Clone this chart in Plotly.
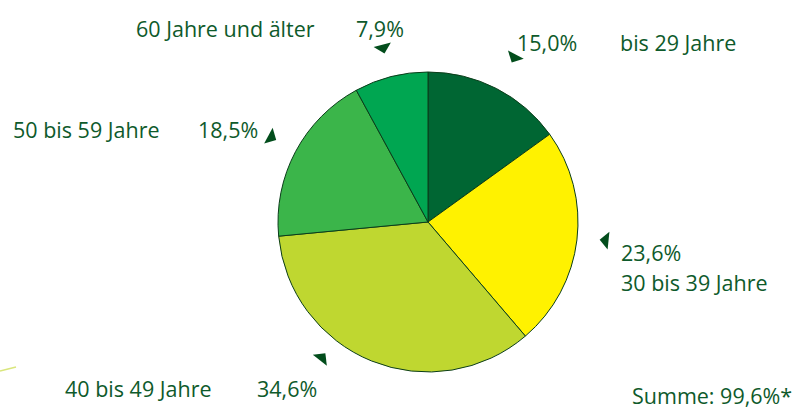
import math
import plotly.graph_objects as go

# ---- data ----
age_groups = ["bis 29 Jahre", "30 bis 39 Jahre", "40 bis 49 Jahre", "50 bis 59 Jahre", "60 Jahre und älter"]
shares = [15.0, 23.6, 34.6, 18.5, 7.9]
share_labels = ["15,0%", "23,6%", "34,6%", "18,5%", "7,9%"]
total_label = "Summe: 99,6%*"

# ---- style ----
W, H = 796, 412
slice_colors = ["#006633", "#FFF200", "#BFD730", "#3BB54A", "#00A651"]
text_color = "#0E5A2B"
pointer_color = "#024D1C"
FONT = "Open Sans"
FS = 21.5

# pie geometry in pixels
cx, cy, r = 428, 222, 150

fig = go.Figure()
fig.add_trace(go.Pie(
    labels=age_groups, values=shares, sort=False, direction="clockwise", rotation=0,
    marker=dict(colors=slice_colors, line=dict(color="#0B3D1A", width=1)),
    textinfo="none", hoverinfo="label+percent", showlegend=False,
    domain=dict(x=[(cx - r) / W, (cx + r) / W], y=[(H - cy - r) / H, (H - cy + r) / H]),
))

# pointer triangles at slice mid-angles
tot = sum(shares)
ptr_adjust = [(0.6, 1.24), (-1.0, 1.19), (16.0, 1.15), (0.4, 1.19), (-0.2, 1.20)]
px, py, pang = [], [], []
cum = 0
for v, (da, k) in zip(shares, ptr_adjust):
    mid = (cum + v / 2) / tot * 360 + da
    cum += v
    px.append(cx + k * r * math.sin(math.radians(mid)))
    py.append(cy - k * r * math.cos(math.radians(mid)))
    pang.append(mid - 45)
fig.add_trace(go.Scatter(
    x=px, y=py, mode="markers", hoverinfo="skip", showlegend=False,
    marker=dict(symbol="triangle-sw", size=14, color=pointer_color, angle=pang, line=dict(width=0)),
    xaxis="x", yaxis="y",
))

# label annotations: (text, x, y, xanchor, yanchor)
ann = [
    (age_groups[4], 317, 28, "right", "middle"),
    (share_labels[4], 406, 28, "right", "middle"),
    (share_labels[0], 515, 42, "left", "middle"),
    (age_groups[0], 618, 42, "left", "middle"),
    (age_groups[3], 11, 129, "left", "middle"),
    (share_labels[3], 260, 129, "right", "middle"),
    (share_labels[1], 619, 252, "left", "middle"),
    (age_groups[1], 619, 282, "left", "middle"),
    (age_groups[2], 63, 388, "left", "middle"),
    (share_labels[2], 319, 388, "right", "middle"),
    (total_label, 794, 412, "right", "bottom"),
]
annotations = [
    dict(text=t, x=x, y=y, xref="x", yref="y", xanchor=a, yanchor=ya,
         showarrow=False, font=dict(family=FONT, size=FS, color=text_color))
    for t, x, y, a, ya in ann
]

fig.update_layout(
    width=W, height=H, margin=dict(l=0, r=0, t=0, b=0),
    paper_bgcolor="white", plot_bgcolor="rgba(0,0,0,0)",
    xaxis=dict(range=[0, W], visible=False, fixedrange=True, domain=[0, 1]),
    yaxis=dict(range=[H, 0], visible=False, fixedrange=True, domain=[0, 1]),
    annotations=annotations,
    shapes=[dict(type="line", xref="x", yref="y", x0=0, y0=371, x1=16, y1=367,
                 line=dict(color="#D9E67C", width=1.5))],
)

fig.write_html("out.html", config=dict(displayModeBar=False),
               post_script="document.body.style.margin='0';document.body.style.overflow='hidden';")
